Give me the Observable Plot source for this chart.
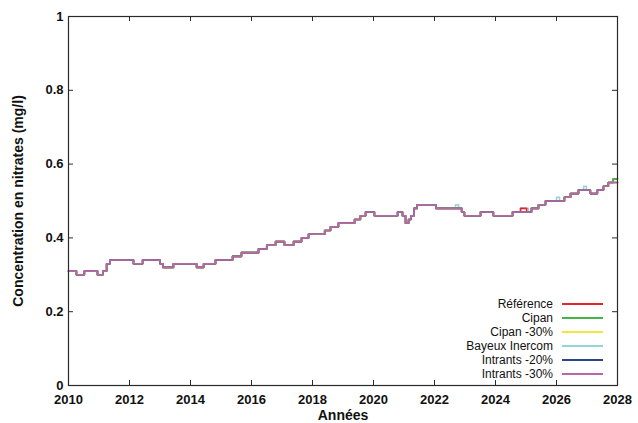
<!DOCTYPE html>
<html><head><meta charset="utf-8">
<script src="https://cdn.jsdelivr.net/npm/d3@7"></script>
<script src="https://cdn.jsdelivr.net/npm/@observablehq/plot@0.6"></script>
<style>
body{margin:0;background:#fff;font-family:"Liberation Sans",Arial,sans-serif}
#wrap{position:relative;width:638px;height:423px}
#legend{position:absolute;left:420px;top:297px;font-size:12px;color:#111}
.row{display:flex;align-items:center;height:14px}
.row span.t{width:133px;text-align:right;white-space:nowrap}
.row span.l{display:inline-block;width:41px;height:2px;margin-left:9px}
</style></head><body><div id="wrap"></div>
<script>
const years = [2010.00,2010.26,2010.52,2010.95,2011.13,2011.25,2011.36,2012.13,2012.43,2013.00,
2013.10,2013.44,2014.20,2014.43,2014.82,2015.38,2015.67,2016.23,2016.50,2016.79,
2017.08,2017.38,2017.64,2017.87,2018.40,2018.59,2018.85,2019.38,2019.57,2019.74,
2020.03,2020.79,2020.95,2021.05,2021.15,2021.23,2021.33,2021.43,2022.05,2022.69,
2022.79,2022.89,2022.98,2023.51,2023.93,2024.56,2024.82,2025.02,2025.08,2025.18,
2025.41,2025.64,2026.00,2026.10,2026.26,2026.46,2026.72,2026.89,2026.98,2027.11,
2027.34,2027.54,2027.70,2027.86,2028.00];

const seriesNames = ["Référence","Cipan","Cipan -30%","Bayeux Inercom","Intrants -20%","Intrants -30%"];
const seriesColors = ["#e3262b","#45b545","#f2e640","#93d6d3","#2b4586","#b868a8"];
const drawOrder = [3,0,1,2,4,5];

const referenceValues = [0.31,0.30,0.31,0.30,0.31,0.33,0.34,0.33,0.34,0.33,
0.32,0.33,0.32,0.33,0.34,0.35,0.36,0.37,0.38,0.39,
0.38,0.39,0.40,0.41,0.42,0.43,0.44,0.45,0.46,0.47,
0.46,0.47,0.46,0.44,0.45,0.46,0.48,0.49,0.48,0.48,
0.48,0.47,0.46,0.47,0.46,0.47,0.48,0.47,0.47,0.48,
0.49,0.50,0.50,0.50,0.51,0.52,0.53,0.53,0.53,0.52,
0.53,0.54,0.55,0.56,0.56];
const cipanValues = [0.31,0.30,0.31,0.30,0.31,0.33,0.34,0.33,0.34,0.33,
0.32,0.33,0.32,0.33,0.34,0.35,0.36,0.37,0.38,0.39,
0.38,0.39,0.40,0.41,0.42,0.43,0.44,0.45,0.46,0.47,
0.46,0.47,0.46,0.44,0.45,0.46,0.48,0.49,0.48,0.48,
0.48,0.47,0.46,0.47,0.46,0.47,0.47,0.47,0.47,0.48,
0.49,0.50,0.50,0.50,0.51,0.52,0.53,0.53,0.53,0.52,
0.53,0.54,0.55,0.56,0.56];
const cipan30Values = [0.31,0.30,0.31,0.30,0.31,0.33,0.34,0.33,0.34,0.33,
0.32,0.33,0.32,0.33,0.34,0.35,0.36,0.37,0.38,0.39,
0.38,0.39,0.40,0.41,0.42,0.43,0.44,0.45,0.46,0.47,
0.46,0.47,0.46,0.44,0.45,0.46,0.48,0.49,0.48,0.48,
0.48,0.47,0.46,0.47,0.46,0.47,0.47,0.47,0.47,0.48,
0.49,0.50,0.50,0.50,0.51,0.52,0.53,0.53,0.53,0.52,
0.53,0.54,0.55,0.55,0.55];
const bayeuxValues = [0.31,0.30,0.31,0.30,0.31,0.33,0.34,0.33,0.34,0.33,
0.32,0.33,0.32,0.33,0.34,0.35,0.36,0.37,0.38,0.39,
0.38,0.39,0.40,0.41,0.42,0.43,0.44,0.45,0.46,0.47,
0.46,0.47,0.46,0.44,0.45,0.46,0.48,0.49,0.48,0.49,
0.48,0.47,0.46,0.47,0.46,0.47,0.48,0.48,0.47,0.48,
0.49,0.50,0.51,0.50,0.51,0.52,0.53,0.54,0.53,0.52,
0.53,0.54,0.55,0.56,0.56];
const intrants20Values = [0.31,0.30,0.31,0.30,0.31,0.33,0.34,0.33,0.34,0.33,
0.32,0.33,0.32,0.33,0.34,0.35,0.36,0.37,0.38,0.39,
0.38,0.39,0.40,0.41,0.42,0.43,0.44,0.45,0.46,0.47,
0.46,0.47,0.46,0.44,0.45,0.46,0.48,0.49,0.48,0.48,
0.48,0.47,0.46,0.47,0.46,0.47,0.47,0.47,0.47,0.48,
0.49,0.50,0.50,0.50,0.51,0.52,0.53,0.53,0.53,0.52,
0.53,0.54,0.55,0.55,0.55];
const intrants30Values = [0.31,0.30,0.31,0.30,0.31,0.33,0.34,0.33,0.34,0.33,
0.32,0.33,0.32,0.33,0.34,0.35,0.36,0.37,0.38,0.39,
0.38,0.39,0.40,0.41,0.42,0.43,0.44,0.45,0.46,0.47,
0.46,0.47,0.46,0.44,0.45,0.46,0.48,0.49,0.48,0.48,
0.48,0.47,0.46,0.47,0.46,0.47,0.47,0.47,0.47,0.48,
0.49,0.50,0.50,0.50,0.51,0.52,0.53,0.53,0.53,0.52,
0.53,0.54,0.55,0.55,0.55];

const xTicks = [2010,2012,2014,2016,2018,2020,2022,2024,2026,2028];
const yTicks = [0,0.2,0.4,0.6,0.8,1];
const xTitle = "Années";
const yTitle = "Concentration en nitrates (mg/l)";

const seriesValues = [referenceValues,cipanValues,cipan30Values,bayeuxValues,intrants20Values,intrants30Values];
const data = seriesNames.map((name,i)=>seriesValues[i].map((v,j)=>({series:name, year:years[j], value:v})));

const tickLenX = 5/30.5, tickLenY = 5/369;
const axisColor = "#2a2a2a";

const chart = Plot.plot({
  width: 638, height: 423,
  marginLeft: 68, marginRight: 21, marginTop: 16, marginBottom: 38,
  style: {fontFamily: "'Liberation Sans', Arial, sans-serif", fontSize: "13px", color: "#111", background: "#fff"},
  x: {domain: [2010, 2028]},
  y: {domain: [0, 1]},
  marks: [
    ...drawOrder.map(i=>Plot.line(data[i], {x:"year", y:"value", stroke: seriesColors[i], strokeWidth: 1.6, curve: "step-after"})),
    Plot.ruleX(xTicks, {x: d=>d, y1: 0, y2: tickLenY, stroke: axisColor}),
    Plot.ruleX(xTicks, {x: d=>d, y1: 1, y2: 1 - tickLenY, stroke: axisColor}),
    Plot.ruleY(yTicks, {y: d=>d, x1: 2010, x2: 2010 + tickLenX, stroke: axisColor}),
    Plot.ruleY(yTicks, {y: d=>d, x1: 2028, x2: 2028 - tickLenX, stroke: axisColor}),
    Plot.frame({stroke: axisColor, strokeWidth: 1.2}),
    Plot.axisX(xTicks, {tickSize: 0, tickPadding: 9, fontWeight: "bold", label: null, tickFormat: d=>String(d)}),
    Plot.axisY(yTicks, {tickSize: 0, tickPadding: 5, fontWeight: "bold", label: null, tickFormat: d=>String(d)}),
    Plot.text([xTitle], {text: d=>d, frameAnchor: "bottom", dy: 34, fontWeight: "bold", fontSize: 14}),
    Plot.text([yTitle], {text: d=>d, frameAnchor: "left", textAnchor: "middle", dx: -50, rotate: -90, fontWeight: "bold", fontSize: 14})
  ]
});
const wrap = document.getElementById("wrap");
wrap.appendChild(chart);
const legend = document.createElement("div");
legend.id = "legend";
seriesNames.forEach((name,i)=>{
  const row = document.createElement("div");
  row.className = "row";
  const t = document.createElement("span"); t.className = "t"; t.textContent = name;
  const l = document.createElement("span"); l.className = "l"; l.style.background = seriesColors[i];
  row.appendChild(t); row.appendChild(l);
  legend.appendChild(row);
});
wrap.appendChild(legend);
</script></body></html>
